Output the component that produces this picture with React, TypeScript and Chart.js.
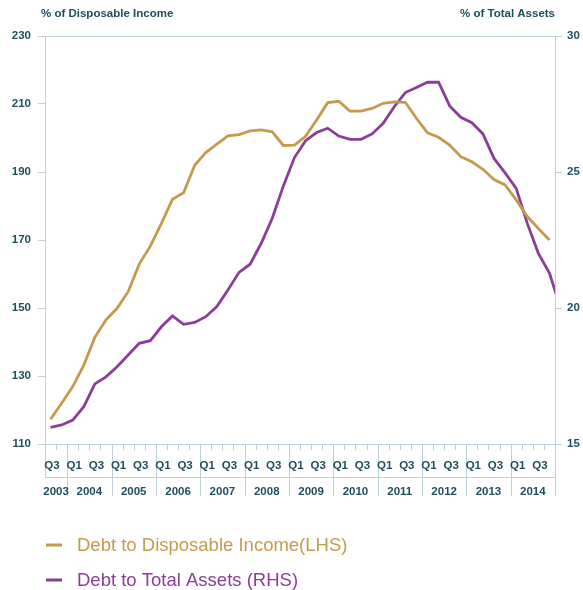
import React, { useEffect, useRef } from 'react';
import { Chart, registerables } from 'chart.js';

Chart.register(...registerables);

const years = ['2003', '2004', '2005', '2006', '2007', '2008', '2009', '2010', '2011', '2012', '2013', '2014'];
// quarter of each observation, 2003 Q3 .. 2014 Q4
const quarters = [
  'Q3', 'Q4',
  'Q1', 'Q2', 'Q3', 'Q4', 'Q1', 'Q2', 'Q3', 'Q4', 'Q1', 'Q2', 'Q3', 'Q4',
  'Q1', 'Q2', 'Q3', 'Q4', 'Q1', 'Q2', 'Q3', 'Q4', 'Q1', 'Q2', 'Q3', 'Q4',
  'Q1', 'Q2', 'Q3', 'Q4', 'Q1', 'Q2', 'Q3', 'Q4', 'Q1', 'Q2', 'Q3', 'Q4',
  'Q1', 'Q2', 'Q3', 'Q4', 'Q1', 'Q2', 'Q3', 'Q4',
];
const shownQuarters = ['Q1', 'Q3'];

const debtToIncome = [
  117.3, 122.0, 126.9, 133.2, 141.4, 146.5, 149.9, 154.8, 162.9, 168.2,
  174.9, 182.0, 183.9, 192.0, 195.7, 198.2, 200.6, 201.0, 202.1, 202.4,
  201.8, 197.8, 197.9, 200.5, 205.3, 210.4, 210.8, 207.9, 207.9, 208.7,
  210.2, 210.6, 210.5, 205.8, 201.5, 200.2, 197.9, 194.5, 193.0, 190.8,
  187.8, 186.2, 181.8, 176.9, 173.4, 170.0,
];
const debtToAssets = [
  15.61, 15.70, 15.88, 16.37, 17.21, 17.47, 17.84, 18.27, 18.70, 18.80,
  19.31, 19.71, 19.40, 19.47, 19.68, 20.05, 20.66, 21.31, 21.61, 22.38,
  23.30, 24.49, 25.53, 26.15, 26.45, 26.61, 26.32, 26.20, 26.20, 26.40,
  26.79, 27.40, 27.92, 28.11, 28.30, 28.30, 27.43, 27.01, 26.81, 26.40,
  25.50, 24.97, 24.40, 23.11, 22.01, 21.28, 20.0,
];

const leftTicks = [110, 130, 150, 170, 190, 210, 230];
const rightTicks = [15, 20, 25, 30];

const seriesNames = ['Debt to Disposable Income(LHS)', 'Debt to Total Assets (RHS)'];
const leftTitle = '% of Disposable Income';
const rightTitle = '% of Total Assets';

const GOLD = '#c49a4e';
const PURPLE = '#8b3e98';
const AXIS = '#bcd0d8';
const TEXT = '#1f4f5b';
const AXFONT = '"Liberation Sans", Arial, sans-serif';
const AXSIZE = 11.5;

const decorPlugin = {
  id: 'decor',
  afterDraw(chart: any) {
    const { ctx, chartArea } = chart;
    const xs = chart.scales.x;
    const px = (v: number) => xs.getPixelForValue(v);
    const bottom = chartArea.bottom;
    const left = chartArea.left;
    const right = chartArea.right;
    ctx.save();

    // axis titles
    ctx.fillStyle = TEXT;
    ctx.font = `bold ${AXSIZE}px ${AXFONT}`;
    ctx.textBaseline = 'middle';
    ctx.textAlign = 'left';
    ctx.fillText(leftTitle, left - 4, 14);
    ctx.textAlign = 'right';
    ctx.fillText(rightTitle, right, 14);

    // x axis frame
    const rowLine = bottom + 33;
    const yearBottom = bottom + 52;
    ctx.strokeStyle = AXIS;
    ctx.lineWidth = 1;
    ctx.beginPath();
    ctx.moveTo(left + 0.5, bottom);
    ctx.lineTo(left + 0.5, rowLine);
    ctx.moveTo(left, rowLine + 0.5);
    ctx.lineTo(right, rowLine + 0.5);
    ctx.stroke();

    // quarter ticks and year separators
    const yearStarts: number[] = [];
    quarters.forEach((q, i) => {
      if (q === 'Q1') yearStarts.push(i);
    });
    ctx.beginPath();
    for (let i = 1; i < quarters.length; i++) {
      const x = Math.round(px(i - 0.5)) + 0.5;
      if (quarters[i] === 'Q1') {
        ctx.moveTo(x, bottom);
        ctx.lineTo(x, yearBottom);
      } else {
        ctx.moveTo(x, bottom);
        ctx.lineTo(x, bottom + 6);
      }
    }
    const xe = Math.round(px(quarters.length - 0.5)) + 0.5;
    ctx.moveTo(xe, bottom);
    ctx.lineTo(xe, yearBottom);
    ctx.stroke();

    // quarter labels
    ctx.fillStyle = TEXT;
    ctx.font = `bold ${AXSIZE}px ${AXFONT}`;
    ctx.textAlign = 'center';
    ctx.textBaseline = 'middle';
    quarters.forEach((q, i) => {
      if (shownQuarters.includes(q)) ctx.fillText(q, px(i) + 1.5, bottom + 21.5);
    });

    // year labels
    const bounds = [0, ...yearStarts, quarters.length];
    years.forEach((y, k) => {
      const x0 = px(bounds[k] - 0.5);
      const x1 = px(bounds[k + 1] - 0.5);
      ctx.fillText(y, (x0 + x1) / 2, bottom + 47.5);
    });

    // legend
    const colors = [GOLD, PURPLE];
    ctx.font = `18.5px "Liberation Sans", Arial, sans-serif`;
    ctx.textAlign = 'left';
    seriesNames.forEach((name, k) => {
      const y = 545 + k * 35;
      ctx.strokeStyle = colors[k];
      ctx.lineWidth = 3;
      ctx.beginPath();
      ctx.moveTo(46, y);
      ctx.lineTo(62, y);
      ctx.stroke();
      ctx.fillStyle = colors[k];
      ctx.fillText(name, 77, y + 1);
    });

    ctx.restore();
  },
};

export default function App() {
  const ref = useRef<HTMLCanvasElement | null>(null);

  useEffect(() => {
    if (!ref.current) return;
    const chart = new Chart(ref.current, {
      type: 'line',
      data: {
        datasets: [
          {
            label: seriesNames[0],
            data: debtToIncome.map((v, i) => ({ x: i, y: v })),
            borderColor: GOLD,
            borderWidth: 2.8,
            pointRadius: 0,
            tension: 0,
            yAxisID: 'yL',
            clip: 0,
          },
          {
            label: seriesNames[1],
            data: debtToAssets.map((v, i) => ({ x: i, y: v })),
            borderColor: PURPLE,
            borderWidth: 2.8,
            pointRadius: 0,
            tension: 0,
            yAxisID: 'yR',
            clip: 0,
          },
        ],
      },
      options: {
        animation: false,
        responsive: true,
        maintainAspectRatio: false,
        layout: { padding: { top: 36, bottom: 146, left: 0, right: 0 } },
        plugins: { legend: { display: false }, tooltip: { enabled: false } },
        scales: {
          x: { type: 'linear', min: -0.5, max: quarters.length - 0.5, display: false },
          yL: {
            position: 'left',
            min: 110,
            max: 230,
            afterBuildTicks: (s: any) => {
              s.ticks = leftTicks.map((v) => ({ value: v }));
            },
            afterFit: (s: any) => {
              s.width = 45;
            },
            ticks: { color: TEXT, padding: 7, font: { family: AXFONT, size: AXSIZE, weight: 'bold' } },
            grid: {
              color: (c: any) => (c.tick && (c.tick.value === 110 || c.tick.value === 230) ? AXIS : 'rgba(0,0,0,0)'),
              tickColor: AXIS,
              tickLength: 7,
              lineWidth: 1,
            },
            border: { color: AXIS },
          },
          yR: {
            position: 'right',
            min: 15,
            max: 30,
            afterBuildTicks: (s: any) => {
              s.ticks = rightTicks.map((v) => ({ value: v }));
            },
            afterFit: (s: any) => {
              s.width = 28;
            },
            ticks: { color: TEXT, padding: 5, font: { family: AXFONT, size: AXSIZE, weight: 'bold' } },
            grid: { drawOnChartArea: false, tickColor: AXIS, tickLength: 7 },
            border: { color: AXIS },
          },
        },
      },
      plugins: [decorPlugin],
    });
    return () => chart.destroy();
  }, []);

  return (
    <div style={{ position: 'absolute', left: 0, top: 0, width: 583, height: 590, background: '#fff' }}>
      <canvas ref={ref} />
    </div>
  );
}
